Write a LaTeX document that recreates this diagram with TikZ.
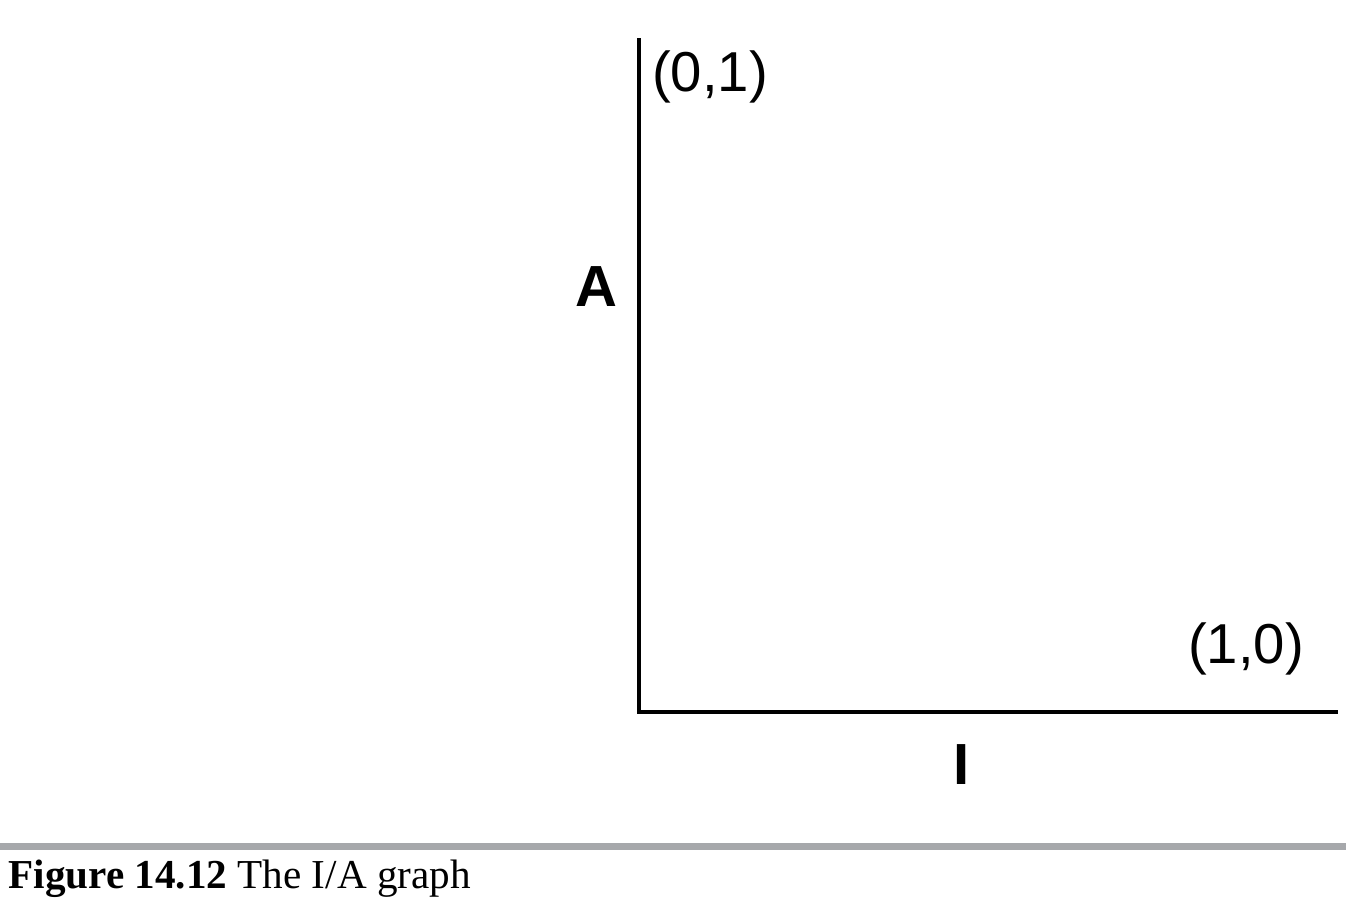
\documentclass[tikz,border=0pt]{standalone}
\usepackage{fontspec}
\setmainfont{Liberation Serif}
\newfontfamily\axisfont{Liberation Sans}
\usepackage{xcolor}
\usetikzlibrary{positioning}
\definecolor{rulegray}{RGB}{166, 168, 171}

\begin{document}
\begin{tikzpicture}[
    x=0.01cm, y=-0.01cm,
    axis/.style={line width=1.35pt},
    point/.style={inner sep=0pt, font=\axisfont\fontsize{16}{18}\selectfont},
    axislabel/.style={inner sep=0pt, font=\axisfont\bfseries\fontsize{16.5}{18}\selectfont},
    caption/.style={inner sep=0pt, anchor=base west, font=\fontsize{11.7}{14}\selectfont}
]
    \useasboundingbox (0,0) rectangle (1346,902);

    \coordinate (origin) at (639,712);
    \coordinate (ytop) at (639,38);
    \coordinate (xend) at (1338,712);

    \draw[axis] (ytop) -- (origin) -- (xend);

    \node[point] (top) at (710,77) {(0,1)};
    \node[point] (right) at (1246,649) {(1,0)};
    \node[axislabel] (alabel) at (596,287) {A};
    \node[axislabel] (ilabel) at (962,765) {I};

    \coordinate (ruleleft) at (0,846);
    \coordinate (ruleright) at (1346,846);
    \draw[rulegray, line width=2pt] (ruleleft) -- (ruleright);

    \node[caption] (cap) at (8,888) {\textbf{Figure 14.12} The I/A graph};
\end{tikzpicture}
\end{document}
